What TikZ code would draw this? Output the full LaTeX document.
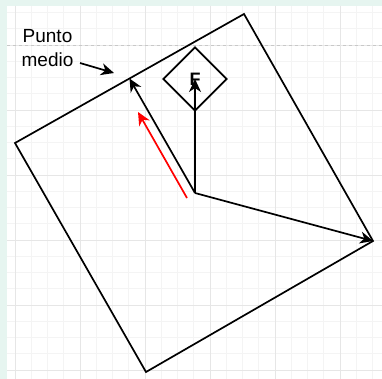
\documentclass[tikz,border=0pt]{standalone}
\usepackage{fontspec}
\setmainfont{Liberation Sans}
\usetikzlibrary{arrows.meta, shapes.geometric, calc}
\definecolor{mintbg}{RGB}{230,245,240}
\definecolor{gridminor}{RGB}{244,244,244}
\definecolor{gridmajor}{RGB}{230,230,230}
\definecolor{pagebreak}{RGB}{200,200,200}

\begin{document}
\begin{tikzpicture}[
    x=1pt, y=-1pt,
    edge/.style={draw=black, line width=1.7pt, line join=miter},
    vec/.style={black, line width=1.7pt, -{Stealth[length=13pt, width=12pt, inset=4pt]}},
    redvec/.style={red, line width=1.7pt, -{Stealth[length=13pt, width=12pt, inset=4pt]}},
    label/.style={font=\fontsize{19}{24}\selectfont, align=center, inner sep=0pt},
    forcebox/.style={shape=diamond, draw=black, line width=1.7pt, inner sep=0pt,
        minimum width=64pt, minimum height=64pt,
        font=\fontsize{18}{20}\selectfont\bfseries}
]
\useasboundingbox (0,0) rectangle (382,379);

% page and grid
\fill[mintbg] (0,0) rectangle (382,379);
\fill[white] (7,6) rectangle (382,379);
\begin{scope}
\clip (7,6) rectangle (382,379);
\foreach \k in {-1,...,22} {
    \draw[gridminor, line width=0.8pt] ({15+16.25*\k},6) -- ++(0,373);
}
\foreach \k in {-2,...,20} {
    \draw[gridminor, line width=0.8pt] (7,{45+16.25*\k}) -- ++(375,0);
}
\foreach \k in {0,...,5} {
    \draw[gridmajor, line width=0.8pt] ({15+65*\k},6) -- ++(0,373);
    \draw[gridmajor, line width=0.8pt] (7,{45+65*\k}) -- ++(375,0);
}
\draw[pagebreak, dashed, line width=0.8pt] (7,45) -- (382,45);
\end{scope}

% square
\coordinate (top) at (244,14);
\coordinate (right) at (373,241);
\coordinate (bottom) at (146,372);
\coordinate (left) at (15,143);
\draw[edge] (top) -- (right) -- (bottom) -- (left) -- cycle;

\coordinate (mid) at ($(left)!0.5!(top)$);
\coordinate (origin) at (195,193);

\node[forcebox] (force) at (195,79) {F};

\draw[vec] (origin) -- (force.center);
\draw[vec] (origin) -- (mid);
\draw[vec] (origin) -- (right);

\coordinate (redfrom) at (187,198);
\coordinate (redto) at (138,112);
\draw[redvec] (redfrom) -- (redto);

\node[label] (midlabel) at (47.5,48) {Punto\\medio};
\coordinate (pmfrom) at (80,63);
\coordinate (pmto) at (114,73);
\draw[vec] (pmfrom) -- (pmto);

\end{tikzpicture}
\end{document}
